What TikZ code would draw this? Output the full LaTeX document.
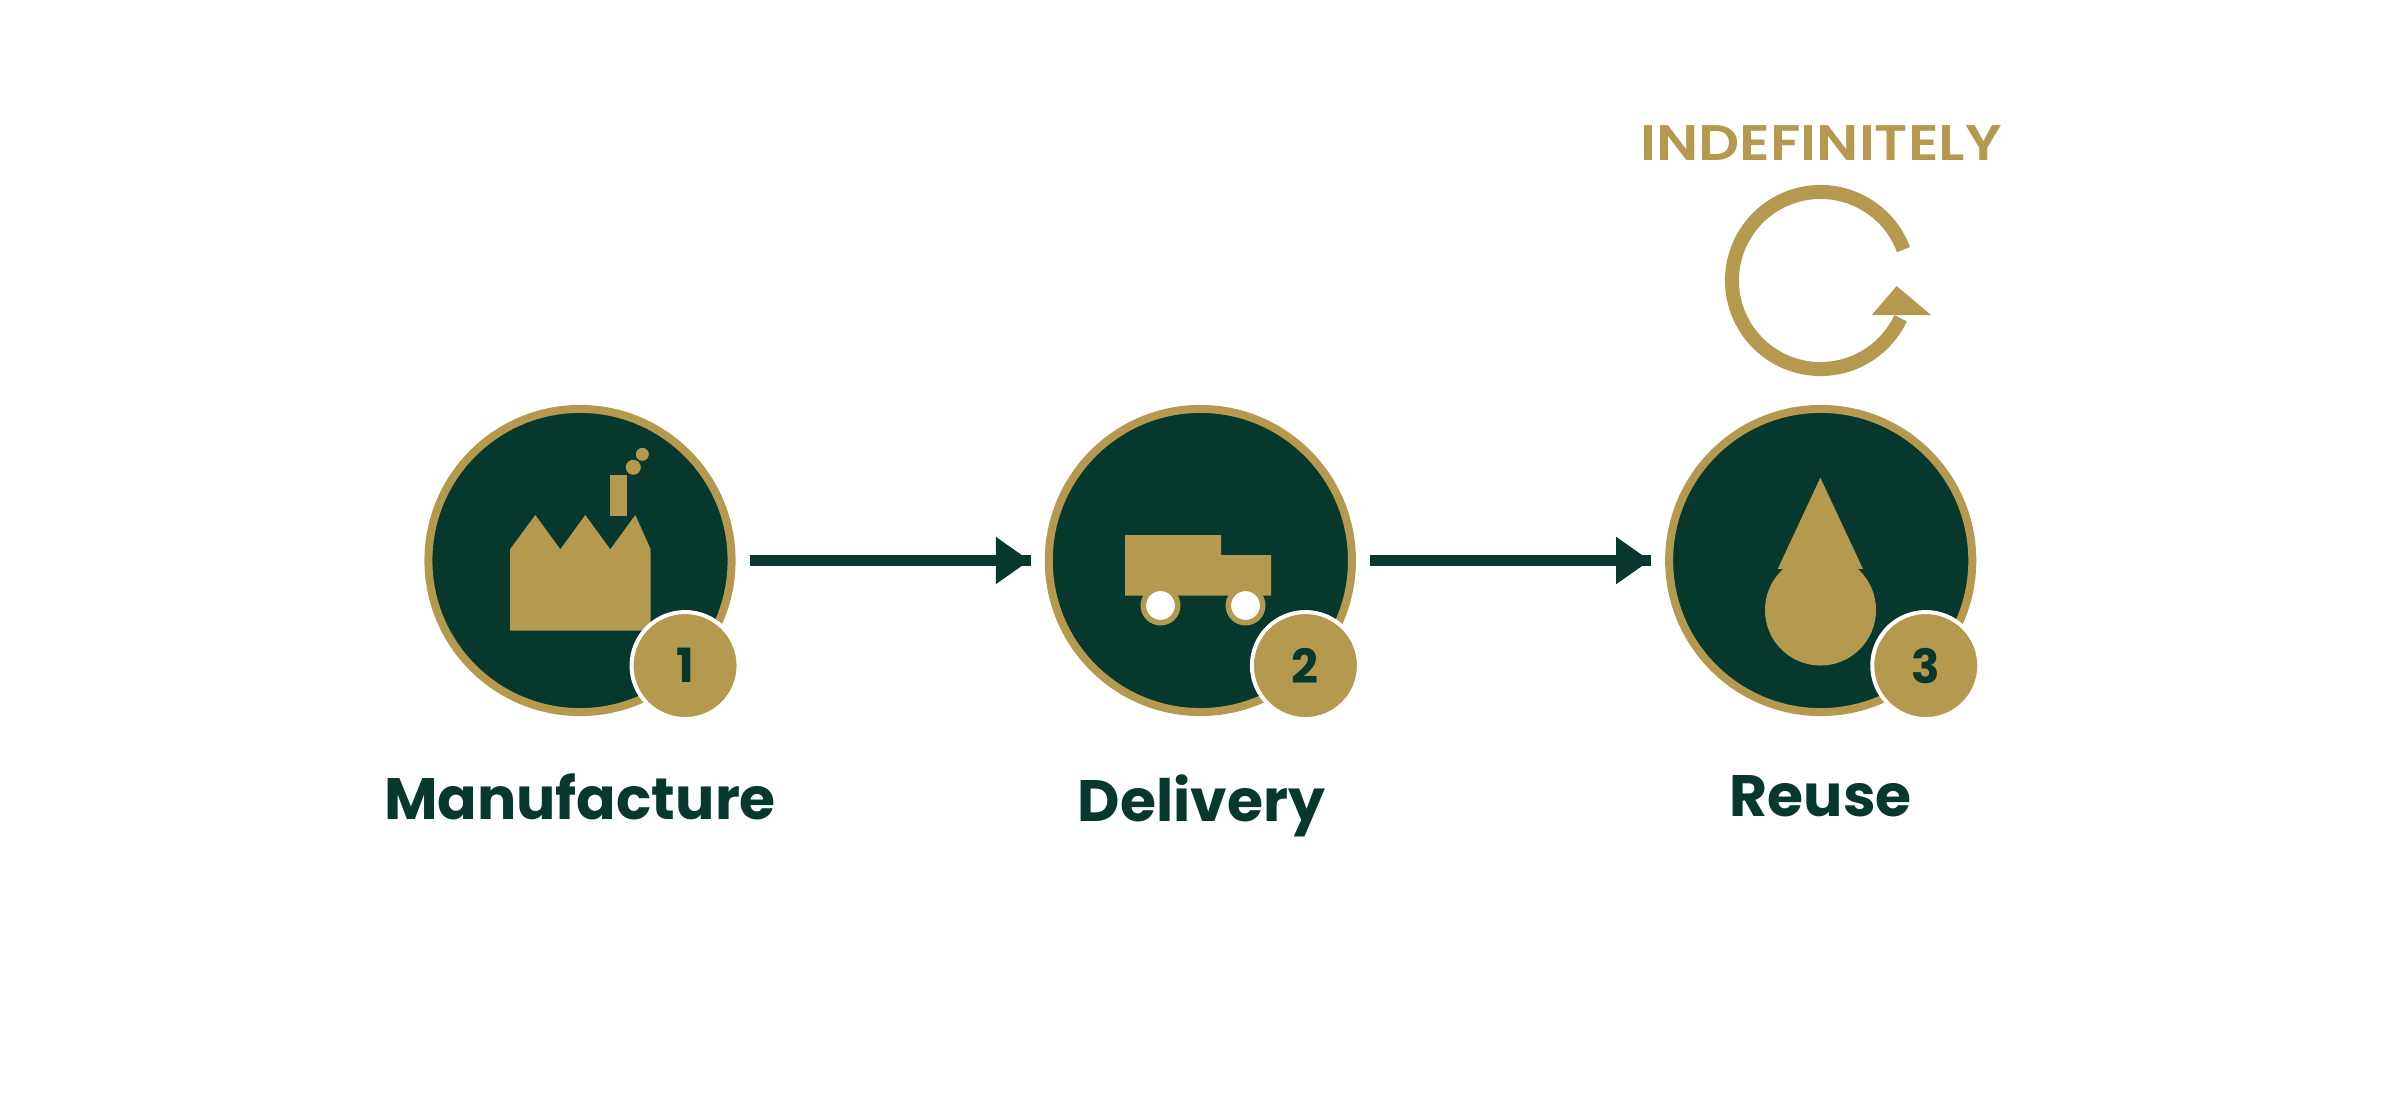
\documentclass[tikz,border=0pt]{standalone}
\usepackage{fontspec}
\setmainfont{Poppins}
\newfontfamily\loopfont[FakeStretch=1.15]{Poppins SemiBold}
\definecolor{DeepGreen}{HTML}{07382D}
\definecolor{SoftGold}{HTML}{B5994E}
\usetikzlibrary{arrows.meta,positioning,calc}
\begin{document}
\begin{tikzpicture}[x=0.01cm, y=-0.01cm]
\tikzset{stage/.style={circle, draw=SoftGold, fill=DeepGreen, line width=0.08cm, minimum size=3.03cm, inner sep=0pt}}
\tikzset{badge/.style={circle, draw=white, fill=SoftGold, line width=0.04cm, minimum size=1.07cm, inner sep=0pt, text=DeepGreen, font=\fontsize{13.4pt}{14pt}\selectfont\bfseries}}
\tikzset{stagelabel/.style={anchor=base, inner sep=0pt, text=DeepGreen, font=\fontsize{16.6pt}{18pt}\selectfont\bfseries}}
\tikzset{flow/.style={draw=DeepGreen, line width=0.105cm, shorten <=0.14cm, shorten >=0.14cm, postaction={draw, shorten >=0.15cm, -{Triangle[length=0.34cm,width=0.45cm]}}}}
\tikzset{goldshape/.style={fill=SoftGold}}
\useasboundingbox (0,0) rectangle (2400,1100);
% stages
\node[stage] (manufacture) at (580,560.5) {};
\node[stage, right=3.09cm of manufacture] (delivery) {};
\node[stage, right=3.09cm of delivery] (reuse) {};
% factory
\fill[goldshape] (510,630.7) -- (510,549.3) -- (535.3,515) -- (560.3,549.3) -- (585.3,515) -- (610.3,549.3) -- (635.3,515) -- (650.7,549.3) -- (650.7,630.7) -- cycle;
\fill[goldshape] (610,475) rectangle (627,516);
\fill[goldshape] (633.3,467.3) circle[radius=0.075cm];
\fill[goldshape] (642.3,454.3) circle[radius=0.065cm];
% truck
\fill[goldshape] (1125,535) -- (1221,535) -- (1221,555) -- (1271,555) -- (1271,595.7) -- (1125,595.7) -- cycle;
\draw[SoftGold, fill=white, line width=0.055cm] (1160.5,605.5) circle[radius=0.172cm];
\draw[SoftGold, fill=white, line width=0.055cm] (1245.5,605.5) circle[radius=0.172cm];
% drop
\fill[goldshape] (1820.3,477.7) -- (1863,569) -- (1777.7,569) -- cycle;
\fill[goldshape] (1820.5,610) circle[radius=0.555cm];
% badges
\node[badge] (badgeone) at ([xshift=1.05cm,yshift=-1.05cm]manufacture.center) {1};
\node[badge] (badgetwo) at ([xshift=1.05cm,yshift=-1.05cm]delivery.center) {2};
\node[badge] (badgethree) at ([xshift=1.05cm,yshift=-1.05cm]reuse.center) {3};
% labels
\node[stagelabel] (manufacturelabel) at ([yshift=-2.585cm]manufacture.center) {Manufacture};
\node[stagelabel] (deliverylabel) at ([xshift=0.01cm,yshift=-2.605cm]delivery.center) {Delivery};
\node[stagelabel] (reuselabel) at ([yshift=-2.555cm]reuse.center) {Reuse};
% arrows
\draw[flow] (manufacture) -- (delivery);
\draw[flow] (delivery) -- (reuse);
% loop
\node[anchor=base, inner sep=0pt, text=SoftGold, font=\fontsize{14.2pt}{16pt}\loopfont] (forever) at (1821,160) {INDEFINITELY};
\coordinate (loopcentre) at (1820.5,280.5);
\draw[SoftGold, line width=0.14cm] ([shift={(20.4:0.885cm)}]loopcentre) arc[start angle=20.4, end angle=334.8, radius=0.885cm];
\fill[goldshape] (1896.7,286) -- (1931,315) -- (1871.7,315) -- cycle;
\end{tikzpicture}
\end{document}
